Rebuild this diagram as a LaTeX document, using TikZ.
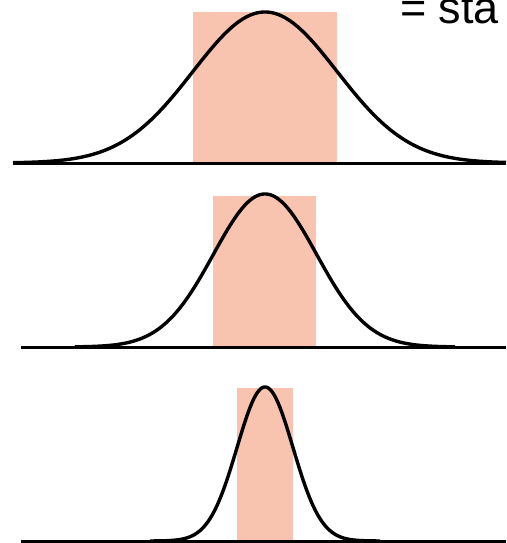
\documentclass[tikz,border=0pt]{standalone}
\usepackage{fontspec}
\setmainfont{Liberation Sans}
\definecolor{salmon}{RGB}{248,196,176}
\tikzset{
  band/.style={fill=salmon, draw=none},
  bell/.style={line width=3.4pt, black, line join=round},
  axisline/.style={line width=3pt, black},
  lbl/.style={font=\fontsize{45}{45}\selectfont, inner sep=0pt, anchor=base west}
}
\begin{document}
\begin{tikzpicture}[x=1pt,y=-1pt]
\useasboundingbox (0,0) rectangle (506,543);
\begin{scope}
\clip (0,0) rectangle (506,543);
% panel 1
\fill[band] (193,12) rectangle (337,163);
\draw[bell] plot[domain=13:506, samples=200, smooth] (\x,{163-151*exp(-((\x-265)/72)^2/2)});
\draw[axisline] (13,163) -- (506,163);
% panel 2
\fill[band] (213,196) rectangle (316,347);
\draw[bell] plot[domain=75:455, samples=200, smooth] (\x,{347-153*exp(-((\x-265)/51.5)^2/2)});
\draw[axisline] (21,347) -- (506,347);
% panel 3
\fill[band] (237,388) rectangle (293,541);
\draw[bell] plot[domain=150:380, samples=200, smooth] (\x,{541-154*exp(-((\x-265)/28)^2/2)});
\draw[axisline] (21,541) -- (506,541);
% label
\node[lbl] (eq) at (400,24) {= sta};
\end{scope}
\end{tikzpicture}
\end{document}
